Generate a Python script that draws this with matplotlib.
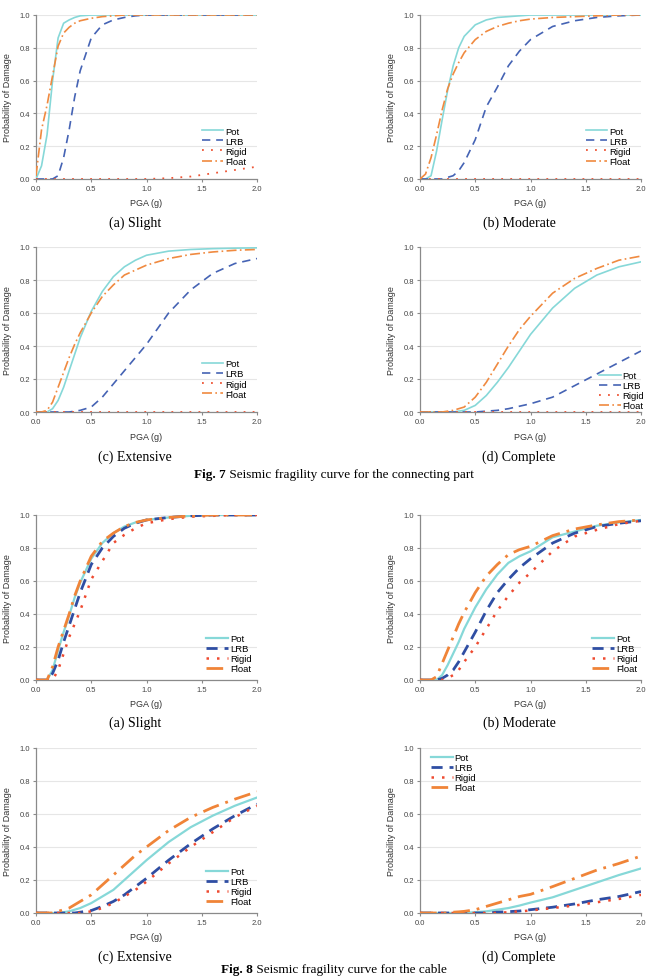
import numpy as np
import matplotlib
matplotlib.use('Agg')
import matplotlib.pyplot as plt

matplotlib.rcParams['font.family'] = ['Liberation Sans', 'DejaVu Sans']

W, H = 660, 978

# shared PGA grid (g)
pga = [0, 0.05, 0.1, 0.15, 0.2, 0.25, 0.3, 0.35, 0.4, 0.5,
       0.6, 0.7, 0.8, 0.9, 1.0, 1.2, 1.4, 1.6, 1.8, 2.0]

series_names = ['Pot', 'LRB', 'Rigid', 'Float']

# Fig. 7 - connecting part
f7a_pot = [0, 0.08, 0.27, 0.6, 0.86, 0.95, 0.97, 0.985, 0.995, 1, 1, 1, 1, 1, 1, 1, 1, 1, 1, 1]
f7a_lrb = [0, 0, 0, 0, 0.02, 0.13, 0.3, 0.5, 0.66, 0.86, 0.94, 0.97, 0.985, 0.995, 1, 1, 1, 1, 1, 1]
f7a_rigid = [0, 0, 0, 0, 0, 0, 0, 0, 0, 0, 0, 0, 0, 0, 0, 0.005, 0.015, 0.035, 0.055, 0.075]
f7a_float = [0.02, 0.3, 0.45, 0.63, 0.81, 0.89, 0.925, 0.95, 0.965, 0.98, 0.99, 0.995, 1, 1, 1, 1, 1, 1, 1, 1]

f7b_pot = [0, 0, 0.02, 0.17, 0.36, 0.54, 0.69, 0.8, 0.87, 0.94, 0.97, 0.985, 0.99, 0.995, 1, 1, 1, 1, 1, 1]
f7b_lrb = [0, 0, 0, 0, 0, 0.01, 0.02, 0.05, 0.1, 0.24, 0.44, 0.56, 0.69, 0.78, 0.85, 0.93, 0.965, 0.985, 0.995, 1]
f7b_rigid = [0] * 20
f7b_float = [0, 0.03, 0.13, 0.27, 0.42, 0.55, 0.64, 0.71, 0.77, 0.85, 0.9, 0.93, 0.95, 0.965, 0.975, 0.985, 0.99, 0.995, 1, 1]

f7c_pot = [0, 0, 0, 0.02, 0.07, 0.15, 0.25, 0.35, 0.45, 0.61, 0.73, 0.82, 0.88, 0.92, 0.95, 0.975, 0.985, 0.99, 0.993, 0.995]
f7c_lrb = [0, 0, 0, 0, 0, 0, 0, 0.005, 0.01, 0.03, 0.09, 0.17, 0.25, 0.33, 0.41, 0.6, 0.74, 0.84, 0.9, 0.93]
f7c_rigid = [0] * 20
f7c_float = [0, 0, 0.01, 0.06, 0.15, 0.24, 0.33, 0.41, 0.48, 0.6, 0.7, 0.77, 0.83, 0.86, 0.89, 0.93, 0.955, 0.97, 0.98, 0.985]

f7d_pot = [0, 0, 0, 0, 0, 0, 0, 0.005, 0.01, 0.04, 0.1, 0.18, 0.27, 0.37, 0.47, 0.63, 0.75, 0.83, 0.88, 0.91]
f7d_lrb = [0, 0, 0, 0, 0, 0, 0, 0, 0, 0, 0.005, 0.01, 0.02, 0.035, 0.05, 0.09, 0.16, 0.23, 0.3, 0.37]
f7d_rigid = [0] * 20
f7d_float = [0, 0, 0, 0, 0, 0.005, 0.01, 0.02, 0.03, 0.09, 0.18, 0.29, 0.4, 0.5, 0.58, 0.72, 0.81, 0.87, 0.92, 0.945]

# Fig. 8 - cable
f8a_pot = [0, 0, 0, 0.06, 0.18, 0.29, 0.39, 0.5, 0.59, 0.735, 0.83, 0.89, 0.93, 0.955, 0.97, 0.985, 0.995, 1, 1, 1]
f8a_lrb = [0, 0, 0, 0.04, 0.12, 0.23, 0.33, 0.43, 0.53, 0.7, 0.8, 0.87, 0.92, 0.95, 0.97, 0.985, 0.995, 1, 1, 1]
f8a_rigid = [0, 0, 0, 0, 0.06, 0.16, 0.26, 0.34, 0.42, 0.61, 0.72, 0.83, 0.88, 0.92, 0.95, 0.975, 0.99, 0.995, 1, 1]
f8a_float = [0, 0, 0, 0.08, 0.2, 0.3, 0.4, 0.51, 0.6, 0.75, 0.84, 0.89, 0.93, 0.955, 0.97, 0.985, 0.995, 1, 1, 1]

f8b_pot = [0, 0, 0, 0, 0.03, 0.09, 0.16, 0.23, 0.31, 0.44, 0.55, 0.64, 0.71, 0.75, 0.78, 0.865, 0.9, 0.935, 0.955, 0.97]
f8b_lrb = [0, 0, 0, 0, 0.01, 0.03, 0.06, 0.11, 0.17, 0.29, 0.42, 0.53, 0.61, 0.68, 0.735, 0.83, 0.89, 0.93, 0.95, 0.965]
f8b_rigid = [0, 0, 0, 0, 0, 0.01, 0.03, 0.06, 0.11, 0.2, 0.31, 0.42, 0.51, 0.59, 0.65, 0.78, 0.87, 0.91, 0.945, 0.965]
f8b_float = [0, 0, 0, 0.02, 0.1, 0.18, 0.26, 0.34, 0.41, 0.53, 0.63, 0.7, 0.76, 0.79, 0.81, 0.875, 0.915, 0.94, 0.96, 0.97]

f8c_pot = [0, 0, 0, 0, 0, 0.005, 0.01, 0.02, 0.03, 0.06, 0.1, 0.14, 0.2, 0.26, 0.32, 0.43, 0.52, 0.59, 0.65, 0.7]
f8c_lrb = [0, 0, 0, 0, 0, 0, 0, 0, 0.005, 0.015, 0.04, 0.07, 0.11, 0.16, 0.21, 0.32, 0.42, 0.51, 0.59, 0.66]
f8c_rigid = [0, 0, 0, 0, 0, 0, 0, 0, 0, 0.01, 0.03, 0.06, 0.1, 0.14, 0.19, 0.3, 0.4, 0.49, 0.58, 0.65]
f8c_float = [0, 0, 0, 0, 0.01, 0.02, 0.03, 0.05, 0.07, 0.11, 0.17, 0.23, 0.29, 0.35, 0.4, 0.5, 0.58, 0.64, 0.69, 0.735]

f8d_pot = [0, 0, 0, 0, 0, 0, 0, 0, 0, 0.005, 0.01, 0.02, 0.03, 0.045, 0.063, 0.095, 0.14, 0.185, 0.23, 0.27]
f8d_lrb = [0, 0, 0, 0, 0, 0, 0, 0, 0, 0, 0, 0.005, 0.008, 0.012, 0.02, 0.035, 0.055, 0.08, 0.1, 0.13]
f8d_rigid = [0, 0, 0, 0, 0, 0, 0, 0, 0, 0, 0, 0, 0.005, 0.01, 0.015, 0.03, 0.045, 0.065, 0.085, 0.11]
f8d_float = [0, 0, 0, 0, 0, 0, 0.005, 0.007, 0.01, 0.02, 0.04, 0.06, 0.08, 0.1, 0.113, 0.16, 0.21, 0.26, 0.3, 0.345]

captions = ['(a) Slight', '(b) Moderate', '(c) Extensive', '(d) Complete']


def box(x0, y0, x1, y1):
    return [x0 / W, 1 - y1 / H, (x1 - x0) / W, (y1 - y0) / H]


def styles(thick):
    # line styles for Pot, LRB, Rigid, Float
    if thick:
        return [dict(color='#86d8d8', lw=1.6, ls='-'),
                dict(color='#2f4ea3', lw=2.0, ls=(0, (4, 2.5))),
                dict(color='#ee4a30', lw=1.8, ls=(0, (1, 3.2))),
                dict(color='#f08438', lw=2.0, ls=(0, (6, 2.5, 1, 2.5)))]
    return [dict(color='#86d8d8', lw=1.2, ls='-'),
            dict(color='#4563b4', lw=1.2, ls=(0, (5, 3.5))),
            dict(color='#ee5535', lw=1.3, ls=(0, (1, 4))),
            dict(color='#f08a40', lw=1.2, ls=(0, (6, 2, 1, 2)))]


def draw_panel(rect, curves, thick, leg_anchor):
    ax = fig.add_axes(box(*rect))
    for name, y, st in zip(series_names, curves, styles(thick)):
        ax.plot(pga, y, label=name, color=st['color'], lw=st['lw'],
                ls=st['ls'], zorder=3)
    ax.set_xlim(0, 2.0)
    ax.set_ylim(0, 1.0)
    ax.set_xticks([0, 0.5, 1.0, 1.5, 2.0])
    ax.set_yticks([0, 0.2, 0.4, 0.6, 0.8, 1.0])
    ax.set_xticklabels(['0.0', '0.5', '1.0', '1.5', '2.0'])
    ax.set_yticklabels(['0.0', '0.2', '0.4', '0.6', '0.8', '1.0'])
    ax.grid(axis='y', color='#e6e6e6', lw=0.8, zorder=0)
    ax.spines['top'].set_visible(False)
    ax.spines['right'].set_visible(False)
    for s in ['left', 'bottom']:
        ax.spines[s].set_color('#8a8a8a')
        ax.spines[s].set_linewidth(0.9)
    ax.tick_params(length=2.5, width=0.8, color='#8a8a8a',
                   labelsize=5.5, labelcolor='#444444', pad=1.5)
    ax.set_xlabel('PGA (g)', fontsize=6.5, color='#333333', labelpad=5)
    ax.set_ylabel('Probability of Damage', fontsize=6.5, color='#333333',
                  labelpad=6)
    ax.legend(loc='center left', bbox_to_anchor=leg_anchor, frameon=False,
              fontsize=6.8, handlelength=2.3, handletextpad=0.2,
              labelspacing=0.12, borderpad=0, borderaxespad=0)
    return ax


fig = plt.figure(figsize=(W / 100, H / 100), dpi=100)

panels = [
    ((36, 16, 257, 180), [f7a_pot, f7a_lrb, f7a_rigid, f7a_float], False, (0.75, 0.2)),
    ((420, 16, 641, 180), [f7b_pot, f7b_lrb, f7b_rigid, f7b_float], False, (0.75, 0.2)),
    ((36, 248, 257, 413), [f7c_pot, f7c_lrb, f7c_rigid, f7c_float], False, (0.75, 0.2)),
    ((420, 248, 641, 413), [f7d_pot, f7d_lrb, f7d_rigid, f7d_float], False, (0.81, 0.13)),
    ((36, 516, 257, 681), [f8a_pot, f8a_lrb, f8a_rigid, f8a_float], True, (0.77, 0.16)),
    ((420, 516, 641, 681), [f8b_pot, f8b_lrb, f8b_rigid, f8b_float], True, (0.78, 0.16)),
    ((36, 749, 257, 914), [f8c_pot, f8c_lrb, f8c_rigid, f8c_float], True, (0.77, 0.16)),
    ((420, 749, 641, 914), [f8d_pot, f8d_lrb, f8d_rigid, f8d_float], True, (0.05, 0.85)),
]

for rect, curves, thick, anchor in panels:
    draw_panel(rect, curves, thick, anchor)

# sub-captions
cap_pos = [(135, 223), (519, 223), (135, 457), (519, 457),
           (135, 723), (519, 723), (135, 957), (519, 957)]
for i, (cx, cy) in enumerate(cap_pos):
    fig.text(cx / W, 1 - cy / H, captions[i % 4], ha='center', va='center',
             fontsize=10, family='Liberation Serif')

# figure captions
for cy, num, rest in [(475, 'Fig. 7', ' Seismic fragility curve for the connecting part'),
                      (970, 'Fig. 8', ' Seismic fragility curve for the cable')]:
    t1 = fig.text(0, 1 - cy / H, num, ha='left', va='center', fontsize=9.5,
                  family='Liberation Serif', weight='bold')
    t2 = fig.text(0, 1 - cy / H, rest, ha='left', va='center', fontsize=9.5,
                  family='Liberation Serif')
    fig.canvas.draw()
    r = fig.canvas.get_renderer()
    w1 = t1.get_window_extent(r).width
    w2 = t2.get_window_extent(r).width
    x0 = (W - (w1 + w2)) / 2 + 4
    t1.set_x(x0 / W)
    t2.set_x((x0 + w1) / W)

fig.savefig('out.png', dpi=100)
